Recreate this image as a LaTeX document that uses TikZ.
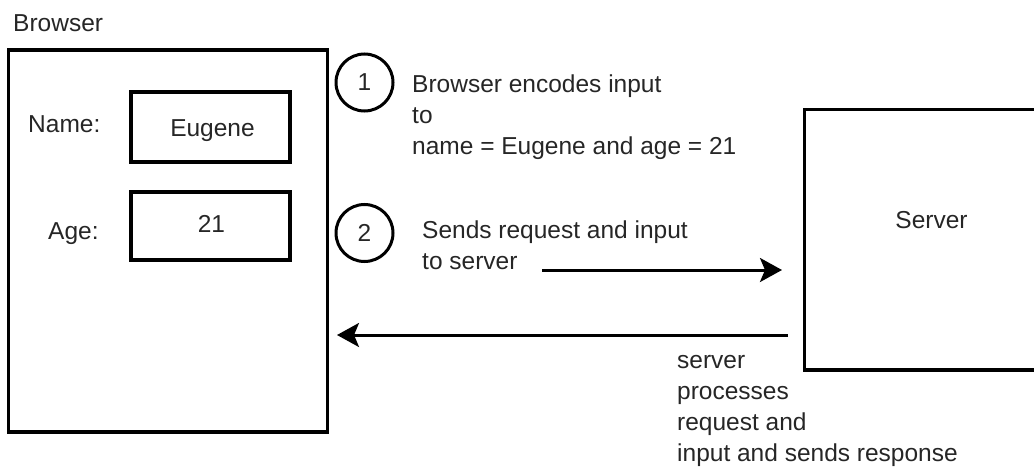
\documentclass[tikz,border=0pt]{standalone}
\usepackage{fontspec}
\setmainfont{Liberation Sans}
\usetikzlibrary{arrows.meta}
\tikzset{
  lbl/.style={anchor=base west, inner sep=0pt, text=black!85, font=\fontsize{24.5}{31}\selectfont},
  lblc/.style={anchor=base, inner sep=0pt, text=black!85, font=\fontsize{24.5}{31}\selectfont},
  boxline/.style={draw=black, line width=3.1pt},
  stepcircle/.style={circle, draw=black, line width=3pt, minimum size=57pt, inner sep=0pt, text=black!85, font=\fontsize{24.5}{31}\selectfont},
  flow/.style={line width=3pt, -{Stealth[length=22pt,width=24pt,inset=5pt]}}
}
\begin{document}
\begin{tikzpicture}[x=1pt,y=-1pt]
\useasboundingbox (0,0) rectangle (1034,468);
\clip (0,0) rectangle (1034,468);
% Browser
\node[lbl] (browserlabel) at (13,32) {Browser};
\draw[boxline] (8.5,50) rectangle (327.5,432);
% fields
\node[lbl] (namelbl) at (28,133) {Name:};
\draw[boxline] (131,92) rectangle (290,162);
\node[lblc] (nameval) at (212.5,137) {Eugene};
\node[lbl] (agelbl) at (48,239) {Age:};
\draw[boxline] (131,192) rectangle (290,260);
\node[lblc] (ageval) at (211.5,233) {21};
% steps
\node[stepcircle] (s1) at (364.5,82.5) {1};
\node[lbl] (t1) at (412,93) {\begin{tabular}[t]{@{}l@{}}Browser encodes input\\to\\name = Eugene and age = 21\end{tabular}};
\node[stepcircle] (s2) at (364.5,233) {2};
\node[lbl] (t2) at (422,238) {\begin{tabular}[t]{@{}l@{}}Sends request and input\\to server\end{tabular}};
% Server
\draw[boxline] (804.5,109.5) rectangle (1045,370);
\node[lblc] (serverlbl) at (931.5,228) {Server};
% arrows
\coordinate (reqS) at (542,270);
\coordinate (reqE) at (782,270);
\draw[flow] (reqS) -- (reqE);
\coordinate (resS) at (788,335);
\coordinate (resE) at (337,335);
\draw[flow] (resS) -- (resE);
\node[lbl] (t3) at (677,368) {\begin{tabular}[t]{@{}l@{}}server\\processes\\request and\\input and sends response\end{tabular}};
\end{tikzpicture}
\end{document}
